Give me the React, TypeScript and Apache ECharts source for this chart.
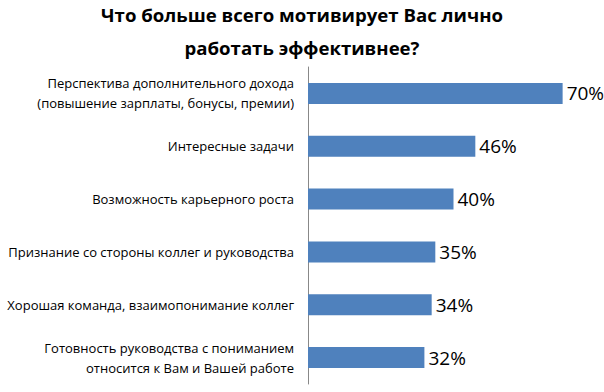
import React, { useEffect, useRef } from "react";
import * as echarts from "echarts";

const titleLines = ["Что больше всего мотивирует Вас лично", "работать эффективнее?"];
const categories = [
  "Перспектива дополнительного дохода\n(повышение зарплаты, бонусы, премии)",
  "Интересные задачи",
  "Возможность карьерного роста",
  "Признание со стороны коллег и руководства",
  "Хорошая команда, взаимопонимание коллег",
  "Готовность руководства с пониманием\nотносится к Вам и Вашей работе",
];
const values = [70, 46, 40, 35, 34, 32];

export default function App() {
  const ref = useRef<HTMLDivElement>(null);
  useEffect(() => {
    if (!ref.current) return;
    const chart = echarts.init(ref.current, null, { renderer: "svg" });
    chart.setOption({
      animation: false,
      backgroundColor: "#ffffff",
      title: {
        text: titleLines.join("\n"),
        left: 302,
        textAlign: "center",
        top: -2,
        padding: 0,
        textStyle: {
          fontFamily: "Open Sans",
          fontWeight: "bold",
          fontSize: 18.6,
          lineHeight: 33,
          color: "#000",
        },
      },
      grid: { left: 308, top: 67, right: 5, bottom: 8, containLabel: false },
      xAxis: {
        type: "value",
        min: 0,
        max: 80,
        show: false,
        splitLine: { show: false },
      },
      yAxis: {
        type: "category",
        data: categories,
        inverse: true,
        axisLine: { show: true, lineStyle: { color: "#888888", width: 1 } },
        axisTick: { show: false },
        axisLabel: {
          margin: 14,
          fontFamily: "Open Sans",
          fontSize: 13,
          color: "#000",
          lineHeight: 20,
          align: "right",
        },
      },
      series: [
        {
          type: "bar",
          data: values,
          barWidth: 21,
          itemStyle: { color: "#4F81BD" },
          label: {
            show: true,
            position: "right",
            distance: 4,
            formatter: (p: any) => p.value + "%",
            fontFamily: "Open Sans",
            fontSize: 19,
            color: "#000",
          },
        },
      ],
    });
    return () => chart.dispose();
  }, []);
  return <div ref={ref} style={{ width: 604, height: 392, position: "absolute", left: 0, top: 0 }} />;
}
